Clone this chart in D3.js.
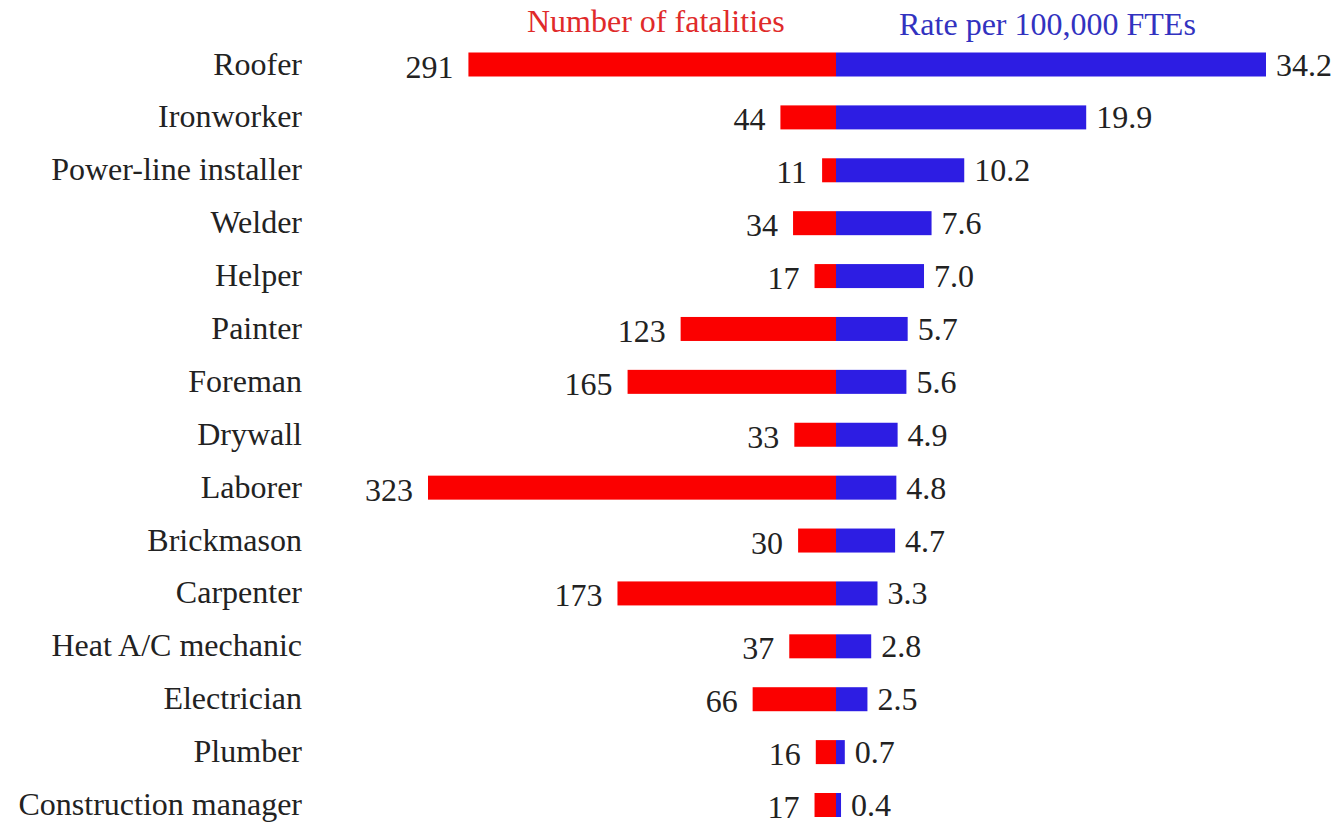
<!DOCTYPE html>
<html>
<head>
<meta charset="utf-8">
<script src="https://cdn.jsdelivr.net/npm/d3@7"></script>
<style>
  html, body { margin: 0; padding: 0; background: #fff; }
  svg { display: block; font-family: "Liberation Serif", "Times New Roman", serif; }
</style>
</head>
<body>
<div id="chart"></div>
<script>
// Construction occupations: fatalities vs rate per 100,000 FTEs
const occupations = ['Roofer', 'Ironworker', 'Power-line installer', 'Welder', 'Helper', 'Painter',
    'Foreman', 'Drywall', 'Laborer', 'Brickmason', 'Carpenter', 'Heat A/C mechanic',
    'Electrician', 'Plumber', 'Construction manager'];
const fatalities = [291, 44, 11, 34, 17, 123, 165, 33, 323, 30, 173, 37, 66, 16, 17];
const rates = [34.2, 19.9, 10.2, 7.6, 7.0, 5.7, 5.6, 4.9, 4.8, 4.7, 3.3, 2.8, 2.5, 0.7, 0.4];
const headers = ['Number of fatalities', 'Rate per 100,000 FTEs'];

const width = 1342, height = 824;
const centerX = 836;
const barH = 24;
const red = '#fb0000', blue = '#2d1de3';

const data = occupations.map((name, i) => ({ name, count: fatalities[i], rate: rates[i] }));

const svg = d3.select('#chart').append('svg')
    .attr('width', width)
    .attr('height', height);

// Scales
const y = d3.scalePoint()
    .domain(occupations)
    .range([64.5, 805]);

const xCount = d3.scaleLinear()
    .domain([0, 323])
    .range([centerX, centerX - 408]);

const xRate = d3.scaleLinear()
    .domain([0, 34.2])
    .range([centerX, centerX + 430]);

// Headers
svg.append('text')
    .attr('x', 527).attr('y', 32)
    .attr('font-size', '32px')
    .attr('fill', '#e02a2a')
    .text(headers[0]);

svg.append('text')
    .attr('x', 899).attr('y', 35)
    .attr('font-size', '32px')
    .attr('fill', '#3232c0')
    .text(headers[1]);

// Category labels
svg.append('g').selectAll('text')
    .data(data)
    .enter().append('text')
    .attr('x', 302)
    .attr('y', d => y(d.name) + 10)
    .attr('text-anchor', 'end')
    .attr('font-size', '32px')
    .attr('fill', '#222')
    .text(d => d.name);

// Fatality bars (left)
svg.append('g').selectAll('rect')
    .data(data)
    .enter().append('rect')
    .attr('x', d => xCount(d.count))
    .attr('y', d => y(d.name) - barH / 2)
    .attr('width', d => centerX - xCount(d.count))
    .attr('height', barH)
    .attr('fill', red);

// Rate bars (right)
svg.append('g').selectAll('rect')
    .data(data)
    .enter().append('rect')
    .attr('x', centerX)
    .attr('y', d => y(d.name) - barH / 2)
    .attr('width', d => xRate(d.rate) - centerX)
    .attr('height', barH)
    .attr('fill', blue);

// Value labels
svg.append('g').selectAll('text')
    .data(data)
    .enter().append('text')
    .attr('x', d => xCount(d.count) - 15)
    .attr('y', d => y(d.name) + 13)
    .attr('text-anchor', 'end')
    .attr('font-size', '32px')
    .attr('fill', '#222')
    .text(d => d.count);

svg.append('g').selectAll('text')
    .data(data)
    .enter().append('text')
    .attr('x', d => xRate(d.rate) + 10)
    .attr('y', d => y(d.name) + 11)
    .attr('font-size', '32px')
    .attr('fill', '#222')
    .text(d => d.rate.toFixed(1));
</script>
</body>
</html>
